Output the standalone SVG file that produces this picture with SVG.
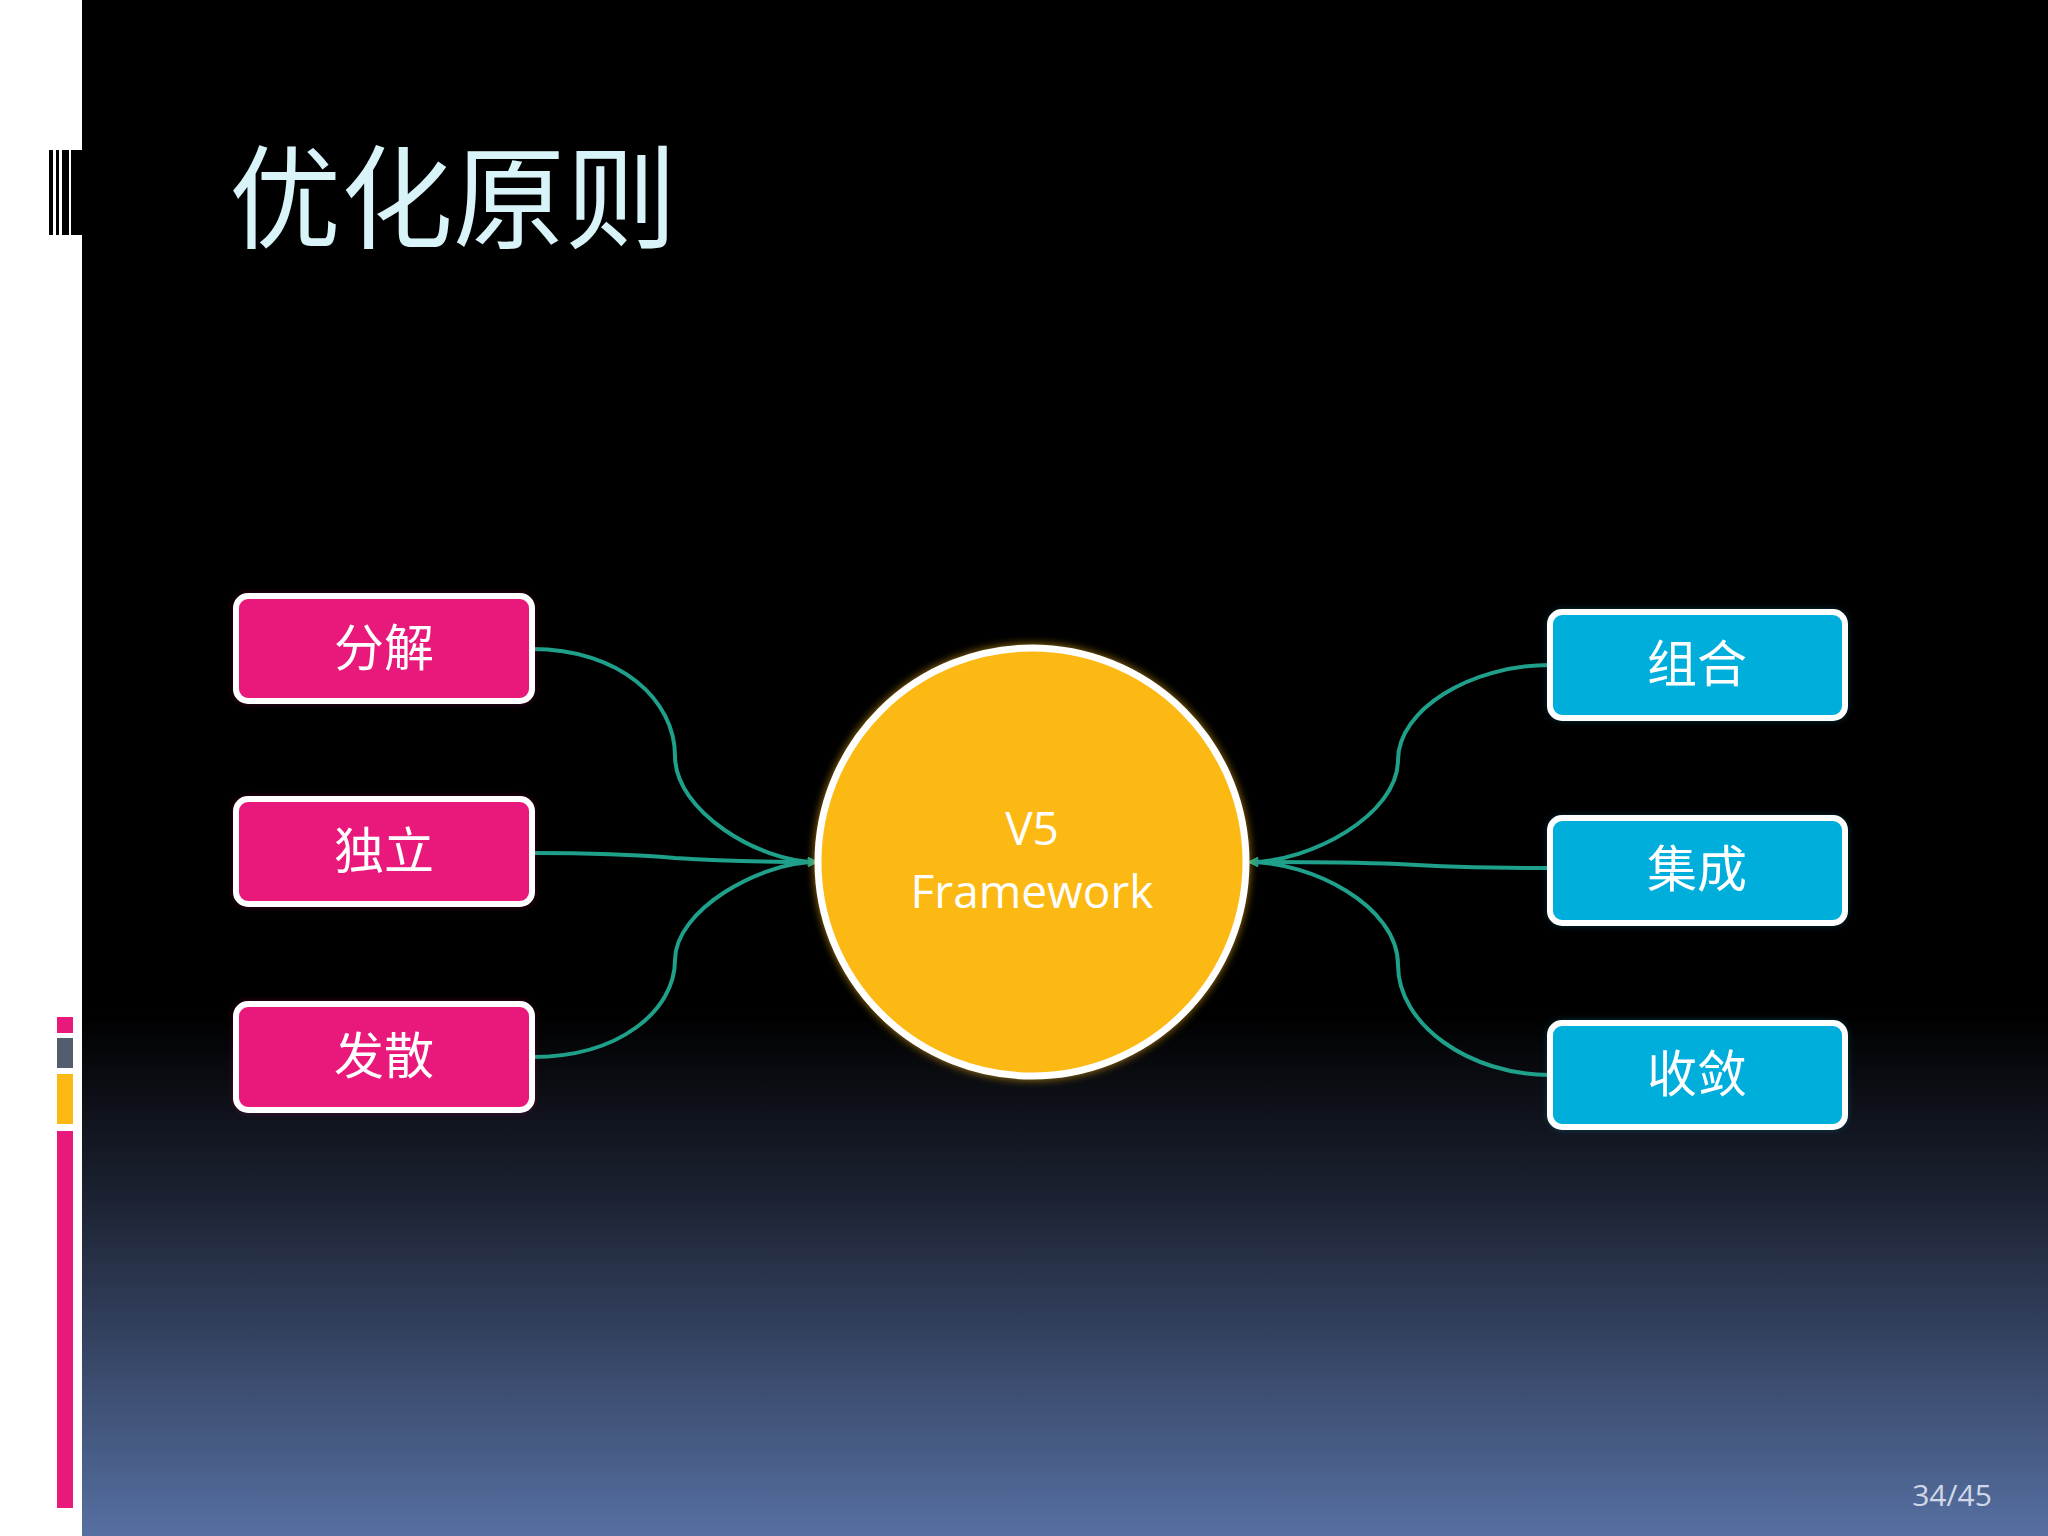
<svg xmlns="http://www.w3.org/2000/svg" width="2048" height="1536" viewBox="0 0 2048 1536">
<defs>
<linearGradient id="bg" x1="0" y1="0" x2="0" y2="1">
<stop offset="0" stop-color="#000"/><stop offset="0.66" stop-color="#000"/><stop offset="0.78" stop-color="#1c2232"/><stop offset="1" stop-color="#5670a2"/>
</linearGradient>
<filter id="gp" x="-20%" y="-30%" width="140%" height="160%"><feGaussianBlur stdDeviation="4"/></filter>
<marker id="arr" viewBox="0 0 20 20" refX="18" refY="10" markerWidth="10" markerHeight="10" markerUnits="userSpaceOnUse" orient="auto"><path d="M2,2 L18,10 L2,18" fill="none" stroke="#1fa08a" stroke-width="4"/></marker>
<style>
.cn{font-family:"Noto Sans CJK SC",sans-serif;fill:#fff;font-size:50px;text-anchor:middle}
.pk{fill:#e8197a;stroke:#fff;stroke-width:6}
.bl{fill:#00aedb;stroke:#fff;stroke-width:6}
.c{fill:none;stroke:#1fa08a;stroke-width:4;marker-end:url(#arr)}
</style>
</defs>
<rect width="2048" height="1536" fill="url(#bg)"/>
<rect width="82" height="1536" fill="#fff"/>
<g fill="#000"><rect x="49" y="150" width="4" height="85"/><rect x="56" y="150" width="3" height="85"/><rect x="62" y="150" width="7" height="85"/><rect x="71" y="150" width="11" height="85"/></g>
<rect x="57" y="1017" width="16" height="16" fill="#e8197a"/>
<rect x="57" y="1038" width="16" height="30" fill="#525e70"/>
<rect x="57" y="1074" width="16" height="50" fill="#fdb913"/>
<rect x="57" y="1131" width="16" height="377" fill="#e8197a"/>
<text x="229" y="240" font-family="Noto Sans CJK SC,sans-serif" font-size="112" fill="#d8f4f8">优化原则</text>
<g id="connectors">
<path class="c" d="M532,649 C620,649 675,700 675,756 C675,812 760,862 816,862"/>
<path class="c" d="M532,853 C600,853 640,855 675,858 C740,862 780,862 816,862"/>
<path class="c" d="M532,1057 C620,1057 675,1010 675,960 C675,910 760,862 816,862"/>
<path class="c" d="M1550,665 C1470,665 1398,710 1398,760 C1398,815 1310,862 1250,862"/>
<path class="c" d="M1550,868 C1470,868 1430,866 1398,864 C1340,862 1290,862 1250,862"/>
<path class="c" d="M1550,1075 C1470,1075 1398,1025 1398,965 C1398,905 1310,862 1250,862"/>
</g>
<g id="n1"><rect x="236" y="596" width="296" height="105" rx="12" fill="#e8197a" filter="url(#gp)" opacity="0.6"/><rect class="pk" x="236" y="596" width="296" height="105" rx="12"/><text class="cn" x="384" y="666">分解</text></g>
<g id="n2"><rect x="236" y="799" width="296" height="105" rx="12" fill="#e8197a" filter="url(#gp)" opacity="0.6"/><rect class="pk" x="236" y="799" width="296" height="105" rx="12"/><text class="cn" x="384" y="869">独立</text></g>
<g id="n3"><rect x="236" y="1004" width="296" height="106" rx="12" fill="#e8197a" filter="url(#gp)" opacity="0.6"/><rect class="pk" x="236" y="1004" width="296" height="106" rx="12"/><text class="cn" x="384" y="1074">发散</text></g>
<g id="n4"><rect x="1550" y="612" width="295" height="106" rx="12" fill="#00aedb" filter="url(#gp)" opacity="0.6"/><rect class="bl" x="1550" y="612" width="295" height="106" rx="12"/><text class="cn" x="1697" y="682">组合</text></g>
<g id="n5"><rect x="1550" y="818" width="295" height="105" rx="12" fill="#00aedb" filter="url(#gp)" opacity="0.6"/><rect class="bl" x="1550" y="818" width="295" height="105" rx="12"/><text class="cn" x="1697" y="887">集成</text></g>
<g id="n6"><rect x="1550" y="1023" width="295" height="104" rx="12" fill="#00aedb" filter="url(#gp)" opacity="0.6"/><rect class="bl" x="1550" y="1023" width="295" height="104" rx="12"/><text class="cn" x="1697" y="1092">收敛</text></g>
<g id="center"><circle cx="1032" cy="862" r="218" fill="#fdb913" filter="url(#gp)" opacity="0.6"/><circle cx="1032" cy="862" r="214" fill="#fdb913" stroke="#fff" stroke-width="7"/>
<text x="1032" y="845" font-family="Open Sans,sans-serif" font-size="46" fill="#fff" text-anchor="middle">V5</text>
<text x="1032" y="908" font-family="Open Sans,sans-serif" font-size="46" fill="#fff" text-anchor="middle">Framework</text></g>
<text x="1952" y="1506" font-family="Open Sans,sans-serif" font-size="30" fill="#d0d8e8" text-anchor="middle">34/45</text>
</svg>
